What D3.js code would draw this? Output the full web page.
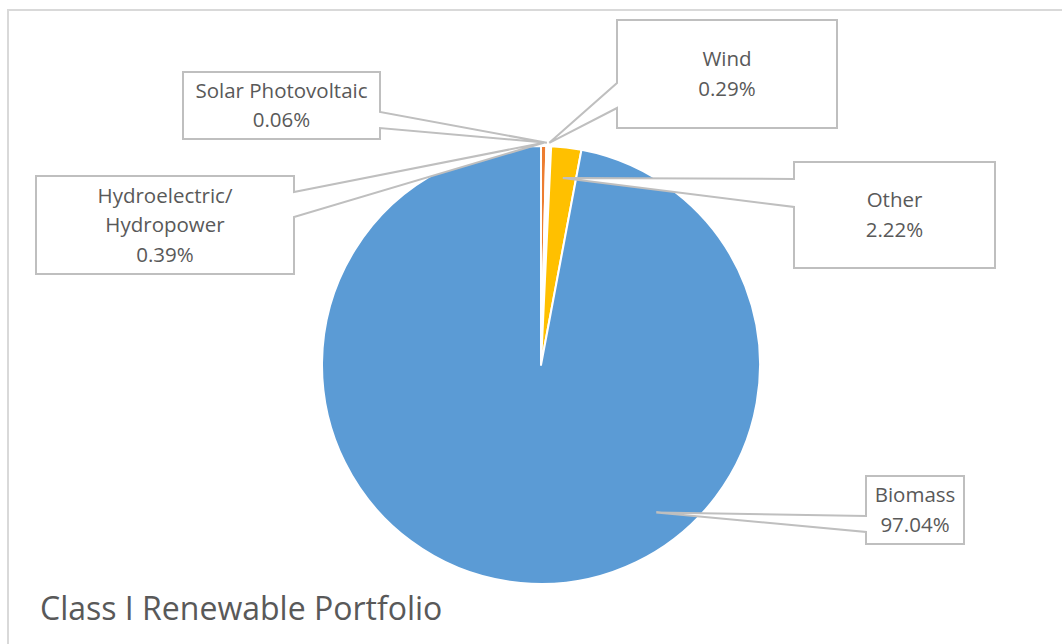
<!DOCTYPE html>
<html>
<head>
<meta charset="utf-8">
<script src="https://cdn.jsdelivr.net/npm/d3@7"></script>
<style>
  html, body { margin: 0; padding: 0; background: #ffffff; }
  svg { display: block; }
  text { font-family: "Open Sans", "Noto Sans", sans-serif; }
</style>
</head>
<body>
<svg id="chart" width="1062" height="644"></svg>
<script>
// ---- data (clockwise from 12 o'clock) ----
const categories = ["Hydroelectric/Hydropower", "Solar Photovoltaic", "Wind", "Other", "Biomass"];
const values     = [0.39, 0.06, 0.29, 2.22, 97.04];
const valueLabels = ["0.39%", "0.06%", "0.29%", "2.22%", "97.04%"];
const labelLines = [["Hydroelectric/", "Hydropower"], ["Solar Photovoltaic"], ["Wind"], ["Other"], ["Biomass"]];
const colors     = ["#ED7D31", "#A5A5A5", "#FFFFFF", "#FFC000", "#5B9BD5"];
const title = "Class I Renewable Portfolio";

// ---- layout (callout boxes) ----
// box: [x0, y0, x1, y1]; side: edge carrying the pointer; base: [yA, yB] on that edge
// tipFrac: position inside slice (0..1 of its angle), tipR: fraction of radius
const callouts = [
  { box: [36, 176, 294, 274],  side: "right", base: [192, 217], tipFrac: 0.5,  tipR: 1.015 },
  { box: [183, 72, 380, 139],  side: "right", base: [112, 128], tipFrac: 0.5,  tipR: 1.015 },
  { box: [617, 20, 837, 128],  side: "left",  base: [83, 108],  tipFrac: 0.5,  tipR: 1.015 },
  { box: [794, 162, 995, 268], side: "left",  base: [179, 207], tipFrac: 0.5,  tipR: 0.86 },
  { box: [866, 476, 964, 544], side: "left",  base: [516, 532], tipFrac: 0.376, tipR: 0.855 }
];

const svg = d3.select("#chart");
const W = 1062, H = 644;
const cx = 541, cy = 365, R = 219;

// outer frame (continues past the right and bottom edges)
svg.append("path")
  .attr("d", `M${W + 5},10 L8,10 L8,${H + 5}`)
  .attr("fill", "none")
  .attr("stroke", "#D9D9D9")
  .attr("stroke-width", 2);

const pie = d3.pie().sort(null).value(d => d)(values);
const arc = d3.arc().innerRadius(0).outerRadius(R);

const g = svg.append("g").attr("transform", `translate(${cx},${cy})`);
g.selectAll("path.slice")
  .data(pie)
  .join("path")
  .attr("class", "slice")
  .attr("d", arc)
  .attr("fill", (d, i) => colors[i])
  .attr("stroke", "#FFFFFF")
  .attr("stroke-width", 2)
  .attr("stroke-linejoin", "round");

// callouts
const labelG = svg.append("g");
pie.forEach((p, i) => {
  const c = callouts[i];
  const a = p.startAngle + (p.endAngle - p.startAngle) * c.tipFrac;
  const r = R * c.tipR;
  const tx = cx + Math.sin(a) * r;
  const ty = cy - Math.cos(a) * r;
  const [x0, y0, x1, y1] = c.box;
  let d;
  if (c.side === "right") {
    d = `M${x0},${y0} L${x1},${y0} L${x1},${c.base[0]} L${tx},${ty} L${x1},${c.base[1]} L${x1},${y1} L${x0},${y1} Z`;
  } else {
    d = `M${x0},${y0} L${x1},${y0} L${x1},${y1} L${x0},${y1} L${x0},${c.base[1]} L${tx},${ty} L${x0},${c.base[0]} Z`;
  }
  labelG.append("path")
    .attr("d", d)
    .attr("fill", "#FFFFFF")
    .attr("stroke", "#BFBFBF")
    .attr("stroke-width", 2)
    .attr("stroke-linejoin", "miter");

  const lines = labelLines[i].concat([valueLabels[i]]);
  const lh = 29.5;
  const midY = (y0 + y1) / 2;
  const firstY = midY - (lines.length - 1) * lh / 2;
  const t = labelG.append("text")
    .attr("text-anchor", "middle")
    .attr("fill", "#595959")
    .attr("font-size", 20.5);
  lines.forEach((ln, k) => {
    t.append("tspan")
      .attr("x", (x0 + x1) / 2)
      .attr("y", firstY + k * lh)
      .attr("dy", "0.35em")
      .text(ln);
  });
});

// title
svg.append("text")
  .attr("x", 40)
  .attr("y", 620)
  .attr("fill", "#595959")
  .attr("font-size", 32)
  .text(title);
</script>
</body>
</html>
